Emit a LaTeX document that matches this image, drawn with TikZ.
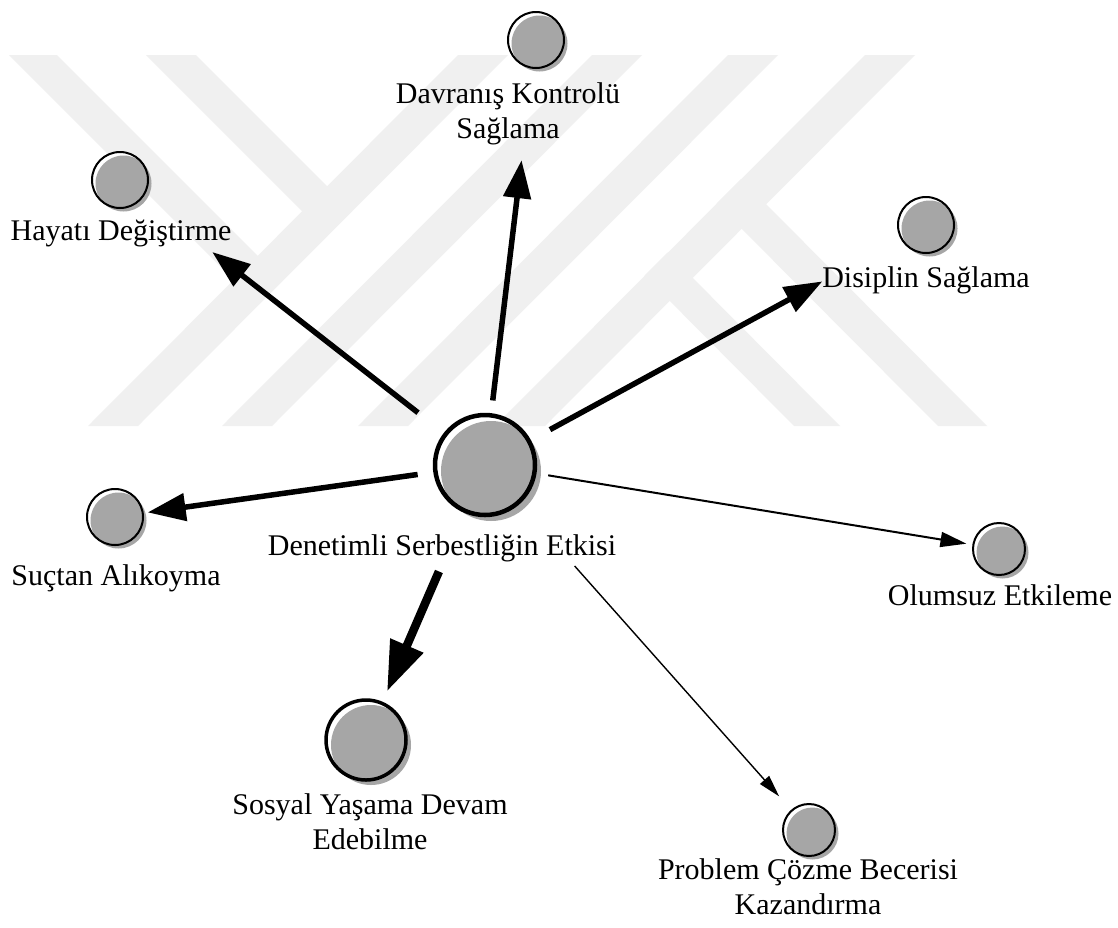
\documentclass[tikz,border=0pt]{standalone}
\usepackage{fontspec}
\setmainfont{Liberation Serif}
\usetikzlibrary{arrows.meta,shadows}
\definecolor{wm}{RGB}{240,240,240}
\definecolor{bubgray}{RGB}{166,166,166}
\tikzset{
  bubble/.style n args={3}{circle, inner sep=0pt, outer sep=0pt, draw=black,
    minimum size=#1, line width=#2, preaction={fill=white},
    general shadow={fill=bubgray, shadow xshift=#3, shadow yshift=-#3}},
  smallbub/.style={bubble={56pt}{2pt}{3.5pt}},
  midbub/.style={bubble={80pt}{3.5pt}{5pt}},
  bigbub/.style={bubble={100pt}{4.5pt}{6pt}},
  lab/.style={font=\fontsize{30}{35}\selectfont, inner sep=0pt, align=center},
  thickarr/.style={line width=5.5pt, -{Triangle[length=38pt,width=27pt]}},
  heavyarr/.style={line width=8.5pt, -{Triangle[length=50pt,width=34pt]}},
  thinarr/.style={line width=2pt, -{Triangle[length=26pt,width=15pt]}},
  hairarr/.style={line width=1.4pt, -{Triangle[length=22pt,width=12pt]}}
}
\begin{document}
\begin{tikzpicture}[x=1pt,y=-1pt]
\useasboundingbox (0,0) rectangle (1118,927);
\fill[white] (0,0) rectangle (1118,927);
% watermark
\fill[wm] (88,426) -- (138,426) -- (508,55) -- (458,55) -- cycle;
\fill[wm] (222,426) -- (272,426) -- (642,55) -- (592,55) -- cycle;
\fill[wm] (358,426) -- (408,426) -- (778,55) -- (728,55) -- cycle;
\fill[wm] (495,426) -- (545,426) -- (915,55) -- (865,55) -- cycle;
\fill[wm] (9,55) -- (57,55) -- (282.5,280.5) -- (258.5,304.5) -- cycle;
\fill[wm] (146,55) -- (196,55) -- (352,211) -- (327,236) -- cycle;
\fill[wm] (644.5,275.5) -- (667.5,252.5) -- (840,426) -- (794,426) -- cycle;
\fill[wm] (716.5,203.5) -- (741,179) -- (987,426) -- (938,426) -- cycle;
% bubbles
\node[bigbub] (C) at (485,465) {};
\node[smallbub] (nH) at (120,180) {};
\node[smallbub] (nD) at (536,40) {};
\node[smallbub] (nS) at (926,225) {};
\node[smallbub] (nSu) at (115,517) {};
\node[bubble={52pt}{2pt}{3.5pt}] (nO) at (999,549) {};
\node[midbub] (nSo) at (366,740) {};
\node[bubble={52pt}{2pt}{3.5pt}] (nP) at (809,830) {};
% labels
\node[lab, anchor=base] (lC) at (442,555) {Denetimli Serbestliğin Etkisi};
\node[lab, anchor=base] (lH) at (121,240) {Hayatı Değiştirme};
\node[lab, anchor=center] (lD) at (508,113.5) {Davranış Kontrolü\\Sağlama};
\node[lab, anchor=base] (lS) at (926,287) {Disiplin Sağlama};
\node[lab, anchor=base] (lSu) at (116,585) {Suçtan Alıkoyma};
\node[lab, anchor=base] (lO) at (1000,605) {Olumsuz Etkileme};
\node[lab, anchor=center] (lSo) at (370,822) {Sosyal Yaşama Devam\\Edebilme};
\node[lab, anchor=center] (lP) at (808,887) {Problem Çözme Becerisi\\Kazandırma};
% arrows
\draw[thickarr, shorten <=85pt, shorten >=117pt] (C.center) -- (nH.center);
\draw[thickarr, shorten <=65pt, shorten >=121pt] (C.center) -- (nD.center);
\draw[thickarr, shorten <=74pt, shorten >=118pt] (C.center) -- (nS.center);
\draw[thickarr, shorten <=68pt, shorten >=33pt] (C.center) -- (nSu.center);
\draw[thinarr, shorten <=64pt, shorten >=33pt] (C.center) -- (nO.center);
\draw[heavyarr, shorten <=116pt, shorten >=53pt] (C.center) -- (nSo.center);
\draw[hairarr, shorten <=135pt, shorten >=45pt] (C.center) -- (nP.center);
\end{tikzpicture}
\end{document}
